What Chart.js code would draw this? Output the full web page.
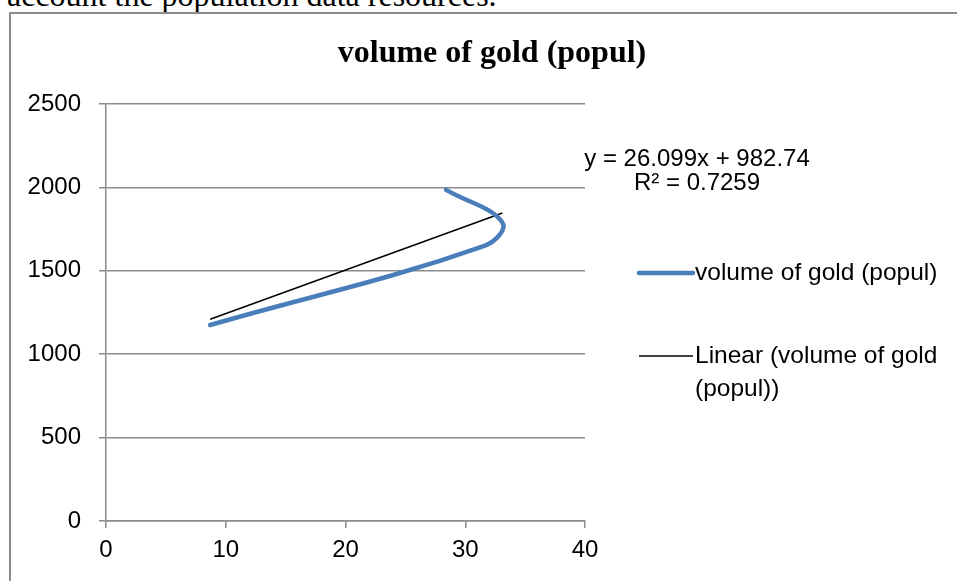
<!DOCTYPE html>
<html>
<head>
<meta charset="utf-8">
<script src="https://cdn.jsdelivr.net/npm/chart.js@4.4.1/dist/chart.umd.min.js"></script>
<style>
  html, body { margin: 0; padding: 0; background: #fff; overflow: hidden; }
  body { width: 957px; height: 581px; position: relative; }
  #para { position: absolute; left: 7px; top: -21px; font: 32px/32px "Liberation Serif", serif; color: #000; white-space: nowrap; }
  #frame { position: absolute; left: 9px; top: 12px; width: 1000px; height: 700px; border: 2px solid #8b8b8b; box-sizing: border-box; }
  #wrap { position: absolute; left: 0; top: 0; width: 957px; height: 581px; }
</style>
</head>
<body>
<div id="para">account the population data resources.</div>
<div id="frame"></div>
<div id="wrap"><canvas id="chart"></canvas></div>
<script>
// volume of gold (popul) – scatter med glattet linje og lineær trendlinje

const TITLE = "volume of gold (popul)";
const goldX = [8.7, 31.6, 33.1, 28.4];
const goldY = [1175, 1650, 1790, 1985];
const trendX = [8.7, 33.1];
const trendY = [1210, 1847];
const TREND_LABEL = ["y = 26.099x + 982.74", "R\u00b2 = 0.7259"];
const LEGEND_LINES = [["volume of gold (popul)"], ["Linear (volume of gold", "(popul))"]];
const xRange = [0, 40, 10];   // min, max, step
const yRange = [0, 2500, 500];

const GRID = "#8b8b8b";
const SANS = '"Liberation Sans", Arial, sans-serif';

const toPoints = (xs, ys) => xs.map((x, i) => ({ x, y: ys[i] }));

// tegner tittel, trendlinje-ligning og legend omtrent som Excel gjør
const excelDecor = {
  id: "excelDecor",
  afterDraw(chart) {
    const { ctx, chartArea: a } = chart;
    ctx.save();
    ctx.fillStyle = "#000";
    ctx.textAlign = "center";
    ctx.textBaseline = "alphabetic";
    ctx.font = 'bold 32px "Liberation Serif", serif';
    ctx.fillText(TITLE, 492, 62);

    ctx.font = "24px " + SANS;
    TREND_LABEL.forEach((t, i) => ctx.fillText(t, a.right + 112, 166 + i * 24));

    ctx.textAlign = "left";
    ctx.textBaseline = "middle";
    ctx.font = "24.5px " + SANS;
    const rows = [273, 356];
    chart.data.datasets.forEach((ds, i) => {
      const y = rows[i];
      const x0 = a.right + 54;
      ctx.beginPath();
      ctx.lineCap = ds.borderCapStyle || "butt";
      ctx.strokeStyle = ds.borderColor;
      ctx.lineWidth = ds.borderWidth;
      ctx.moveTo(x0, y);
      ctx.lineTo(x0 + 54, y);
      ctx.stroke();
      LEGEND_LINES[i].forEach((t, j) => ctx.fillText(t, x0 + 56, y + j * 33));
    });
    ctx.restore();
  },
};

new Chart(document.getElementById("chart"), {
  type: "scatter",
  data: {
    datasets: [
      {
        label: "volume of gold (popul)",
        data: toPoints(goldX, goldY),
        showLine: true,
        borderColor: "#4a7ebb",
        backgroundColor: "#4a7ebb",
        borderWidth: 4.5,
        borderCapStyle: "round",
        borderJoinStyle: "round",
        tension: 0.4,
        pointRadius: 0,
      },
      {
        label: "Linear (volume of gold (popul))",
        data: toPoints(trendX, trendY),
        showLine: true,
        borderColor: "#000",
        backgroundColor: "#000",
        borderWidth: 1.5,
        pointRadius: 0,
      },
    ],
  },
  options: {
    responsive: true,
    maintainAspectRatio: false,
    animation: false,
    layout: { padding: { top: 104, right: 372, bottom: 0, left: 0 } },
    plugins: { legend: { display: false }, title: { display: false }, tooltip: { enabled: false } },
    scales: {
      x: {
        type: "linear",
        min: xRange[0], max: xRange[1],
        afterFit: (s) => { s.height = 60; },
        ticks: { stepSize: xRange[2], color: "#000", padding: 8, font: { family: SANS, size: 24 }, callback: (v) => String(v) },
        grid: { drawOnChartArea: false, drawTicks: true, tickLength: 7, color: GRID, lineWidth: 1.5 },
        border: { display: true, color: GRID, width: 1.5 },
      },
      y: {
        type: "linear",
        min: yRange[0], max: yRange[1],
        afterFit: (s) => { s.width = 106; },
        ticks: { stepSize: yRange[2], color: "#000", padding: 18, font: { family: SANS, size: 24 }, callback: (v) => String(v) },
        grid: { drawTicks: true, tickLength: 7, color: GRID, lineWidth: 1.5 },
        border: { display: true, color: GRID, width: 1.5 },
      },
    },
  },
  plugins: [excelDecor],
});
</script>
</body>
</html>
